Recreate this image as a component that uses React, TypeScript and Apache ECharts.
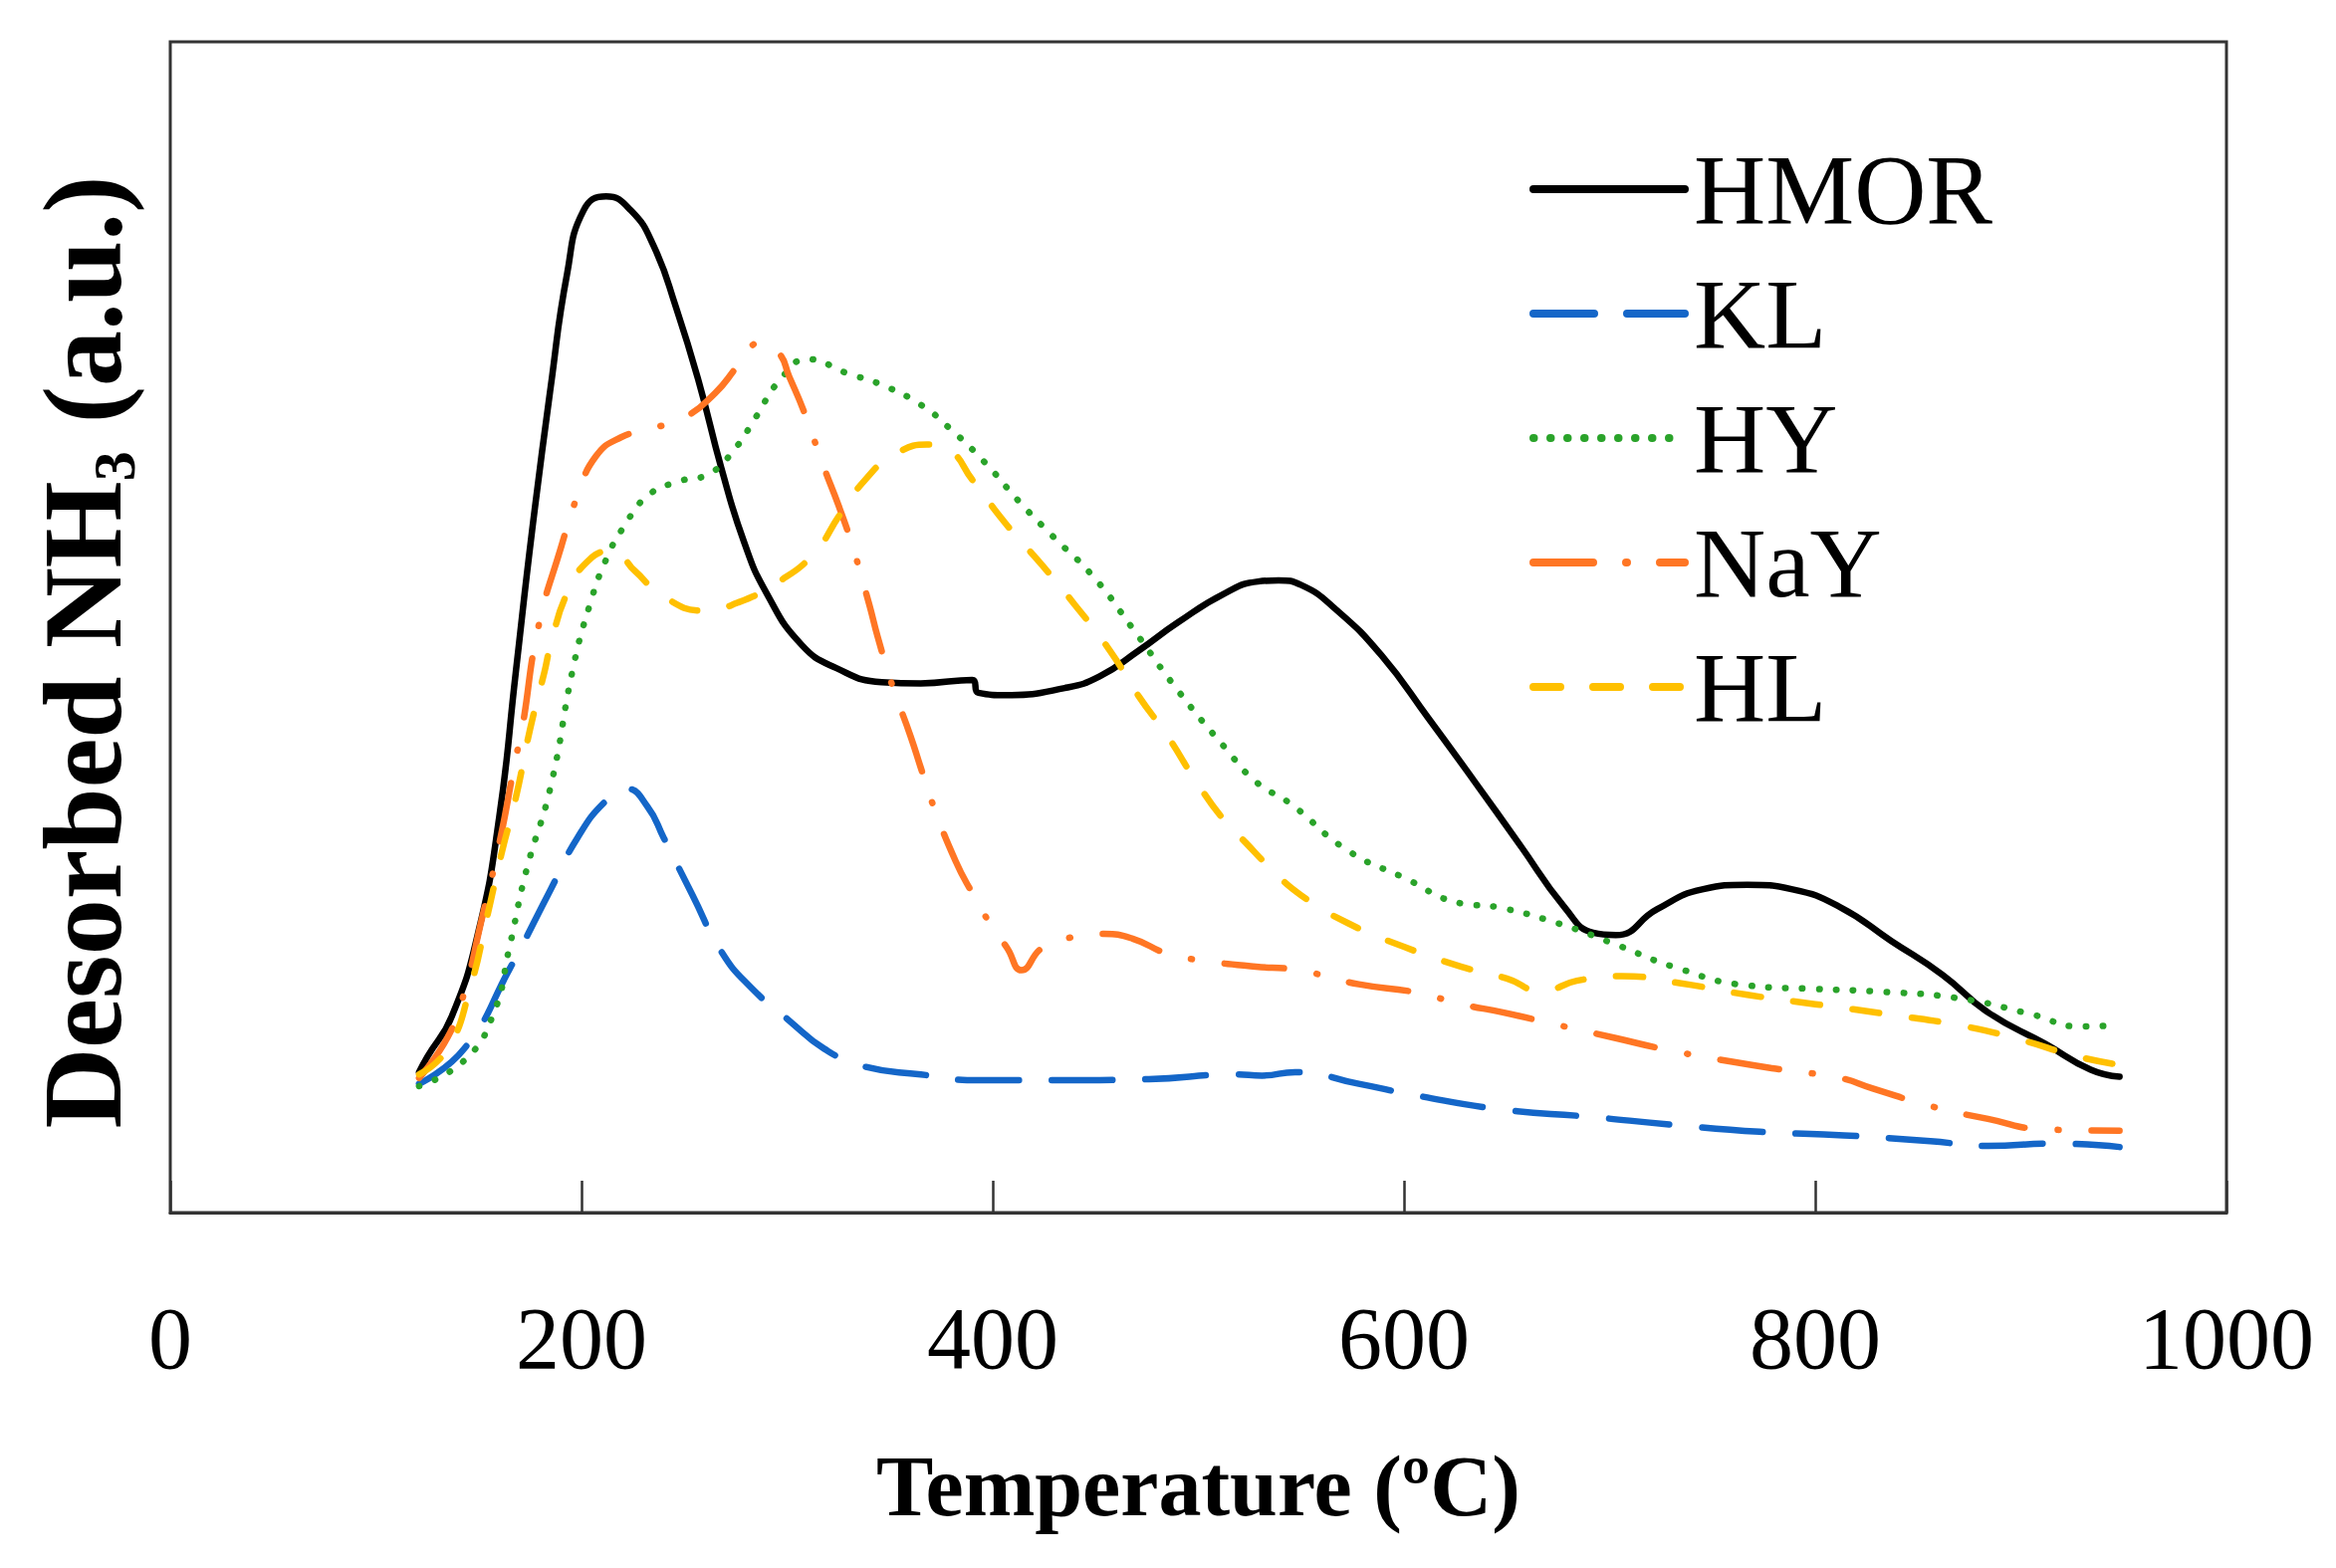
import React, { useEffect, useRef } from "react";
import * as echarts from "echarts";

const FONT = '"Liberation Serif", "Times New Roman", serif';

const SERIES_NAMES = ["HMOR", "KL", "HY", "NaY", "HL"];
const X_TICKS = [0, 200, 400, 600, 800, 1000];

const HMOR = [
  [121, 12.0], [125, 13.3], [137, 16.8], [150, 24.1], [160, 33.8], [168, 46.1], [176, 58.3],
  [185, 70.5], [193, 80.2], [201, 85.6], [212, 86.8], [224, 85.6], [235, 82.6], [246, 77.3],
  [257, 71.0], [268, 63.6], [279, 57.3], [290, 52.9], [307, 48.5], [324, 46.5], [346, 45.3],
  [365, 45.2], [390, 45.5], [393, 44.4], [407, 44.2], [435, 44.8], [452, 45.8], [471, 48.0],
  [490, 50.4], [513, 52.9], [529, 53.9], [539, 54.0], [550, 53.6], [567, 51.5], [589, 47.6],
  [612, 42.2], [634, 36.9], [656, 31.5], [678, 26.1], [692, 23.9], [703, 23.7], [723, 25.9],
  [745, 27.6], [767, 28.0], [789, 27.6], [812, 26.1], [837, 23.2], [862, 20.3], [884, 17.1],
  [912, 14.4], [934, 12.2], [948, 11.6],
];

const KL = [
  [121, 11.0], [143, 14.0], [165, 20.8], [185, 27.6], [198, 32.0], [212, 35.2], [222, 36.2],
  [232, 34.7], [240, 32.0], [254, 27.1], [268, 22.3], [282, 19.3], [301, 16.4], [318, 14.0],
  [337, 12.5], [365, 11.8], [393, 11.3], [435, 11.3], [476, 11.4], [518, 11.8], [531, 11.7],
  [547, 12.0], [578, 11.0], [606, 10.0], [648, 8.8], [689, 8.2], [731, 7.5], [773, 6.9],
  [814, 6.6], [856, 6.1], [884, 5.7], [917, 5.9], [948, 5.6],
];

const HY = [
  [121, 10.8], [143, 13.0], [157, 16.9], [165, 22.7], [173, 29.1], [185, 36.4], [196, 46.6],
  [204, 51.9], [212, 55.8], [221, 58.7], [232, 61.2], [246, 62.4], [262, 63.1], [274, 65.1],
  [285, 68.0], [296, 71.0], [310, 72.9], [329, 71.7], [346, 70.7], [365, 69.0], [379, 67.0],
  [396, 64.1], [413, 60.7], [429, 57.8], [449, 54.3], [468, 49.9], [490, 44.6], [513, 39.7],
  [528, 36.8], [545, 34.9], [572, 31.0], [600, 28.6], [628, 26.4], [645, 26.1], [675, 24.7],
  [703, 22.9], [731, 21.0], [767, 19.4], [800, 19.1], [828, 18.9], [870, 18.3], [906, 16.9],
  [928, 15.9], [948, 16.0],
];

const NAY = [
  [121, 11.5], [135, 15.0], [143, 18.8], [151, 24.7], [160, 31.5], [168, 38.8], [171, 41.2],
  [179, 50.0], [190, 56.8], [198, 61.2], [207, 64.6], [219, 66.2], [235, 67.0], [251, 68.0],
  [265, 70.0], [274, 71.9], [282, 73.9], [287, 74.3], [296, 73.4], [301, 71.4], [308, 68.5],
  [318, 63.6], [325, 60.4], [332, 56.8], [340, 51.9], [344, 49.2], [351, 45.1], [360, 40.7],
  [365, 38.0], [371, 34.8], [382, 30.0], [390, 27.3], [399, 24.6], [407, 22.6], [414, 20.7],
  [424, 22.6], [438, 23.5], [454, 23.8], [468, 23.4], [485, 22.1], [499, 21.6], [528, 21.0],
  [545, 20.8], [578, 19.5], [606, 18.8], [628, 17.8], [648, 17.1], [673, 16.1], [703, 14.9],
  [728, 13.9], [759, 12.9], [784, 12.2], [812, 11.5], [828, 10.6], [856, 9.1], [884, 8.0],
  [912, 7.1], [948, 7.0],
];

const HL = [
  [121, 11.8], [135, 14.0], [146, 19.3], [154, 25.2], [161, 30.6], [168, 35.4], [175, 41.3],
  [182, 46.2], [185, 48.5], [193, 52.9], [204, 55.8], [215, 56.5], [226, 54.8], [240, 52.6],
  [260, 51.4], [276, 52.1], [296, 53.9], [313, 56.3], [326, 59.7], [338, 62.6], [351, 64.6],
  [368, 65.6], [379, 65.1], [390, 62.6], [407, 58.7], [424, 55.3], [440, 51.9], [457, 48.0],
  [471, 44.1], [485, 40.7], [499, 36.8], [513, 33.4], [523, 31.6], [534, 29.6], [550, 27.1],
  [573, 24.7], [600, 22.7], [628, 21.0], [650, 20.0], [667, 18.9], [684, 19.8], [706, 20.2],
  [734, 19.6], [767, 18.6], [800, 17.8], [837, 16.9], [873, 15.9], [901, 14.7], [926, 13.4],
  [945, 12.7],
];

const COLORS = ["#000000", "#1466C8", "#2AA32A", "#FF7624", "#FFC000"];

function lineSeries(name: string, data: number[][], color: string, type: any) {
  return {
    name,
    type: "line",
    data,
    symbol: "none",
    smooth: 0.5,
    color,
    lineStyle: { color, width: 6.5, type, cap: "round", join: "round" },
    z: 3,
  };
}

export default function App() {
  const ref = useRef<HTMLDivElement>(null);
  useEffect(() => {
    document.body.style.margin = "0";
    const chart = echarts.init(ref.current!, null, { renderer: "svg" });
    const option = {
      animation: false,
      backgroundColor: "#ffffff",
      grid: {
        left: 171,
        right: 110,
        top: 42,
        bottom: 357,
        show: true,
        borderColor: "#333333",
        borderWidth: 3,
        containLabel: false,
      },
      legend: {
        data: SERIES_NAMES,
        orient: "vertical",
        left: 1531,
        top: 135,
        itemWidth: 152,
        itemHeight: 8,
        itemGap: 25,
        itemStyle: { opacity: 0 },
        lineStyle: { width: 8 },
        textStyle: {
          fontSize: 100,
          fontFamily: FONT,
          color: "#000000",
          lineHeight: 100,
          padding: [0, 0, 0, 4],
        },
      },
      xAxis: {
        type: "value",
        min: X_TICKS[0],
        max: X_TICKS[X_TICKS.length - 1],
        interval: 200,
        axisLine: { show: true, lineStyle: { color: "#333333", width: 3 } },
        axisTick: { show: true, inside: true, length: 32, lineStyle: { color: "#333333", width: 2.5 } },
        axisLabel: {
          fontSize: 88,
          fontFamily: FONT,
          color: "#000000",
          margin: 82,
          showMinLabel: true,
          showMaxLabel: true,
          formatter: (v: number) => String(v),
        },
        splitLine: { show: false },
        name: "Temperature (ºC)",
        nameLocation: "middle",
        nameGap: 232,
        nameTextStyle: { fontSize: 86, fontWeight: "bold", fontFamily: FONT, color: "#000000" },
      },
      yAxis: {
        type: "value",
        min: 0,
        max: 100,
        axisLine: { show: false },
        axisTick: { show: false },
        axisLabel: { show: false },
        splitLine: { show: false },
        name: "{a|Desorbed NH}{b|3}{a| (a.u.)}",
        nameLocation: "middle",
        nameGap: 26,
        nameTextStyle: {
          padding: [0, 50, 0, 0],
          rich: {
            a: { fontSize: 112, fontWeight: "bold", fontFamily: FONT, color: "#000000", lineHeight: 124 },
            b: {
              fontSize: 60,
              fontWeight: "bold",
              fontFamily: FONT,
              color: "#000000",
              lineHeight: 48,
              verticalAlign: "bottom",
            },
          },
        },
      },
      series: [
        lineSeries(SERIES_NAMES[0], HMOR, COLORS[0], "solid"),
        lineSeries(SERIES_NAMES[1], KL, COLORS[1], [61, 33]),
        lineSeries(SERIES_NAMES[2], HY, COLORS[2], [0.5, 16.5]),
        lineSeries(SERIES_NAMES[3], NAY, COLORS[3], [60, 33, 1, 33]),
        lineSeries(SERIES_NAMES[4], HL, COLORS[4], [27, 33]),
      ],
    };
    chart.setOption(option as any);
    return () => chart.dispose();
  }, []);
  return <div ref={ref} style={{ width: 2346, height: 1575, background: "#ffffff" }} />;
}
